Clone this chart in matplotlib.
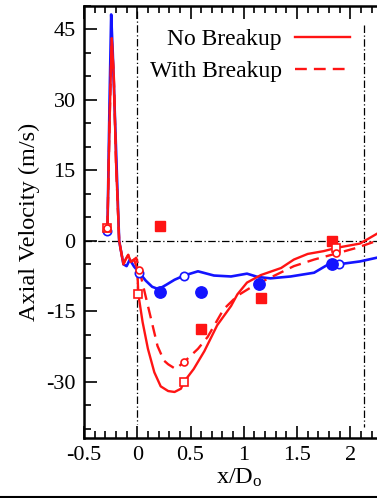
import matplotlib
matplotlib.use("Agg")
import matplotlib.pyplot as plt
from matplotlib.ticker import MultipleLocator
from matplotlib.lines import Line2D

# Continuous-phase axial velocity along the centreline
x_gas = [-0.28, -0.26, -0.245, -0.23, -0.20, -0.17, -0.13, -0.10, -0.07, -0.03, 0.02,
         0.08, 0.14, 0.20, 0.27, 0.35, 0.44, 0.57, 0.72, 0.88, 1.03, 1.13, 1.25,
         1.44, 1.66, 1.78, 1.89, 2.09, 2.25, 2.40]
v_gas = [2.0, 30.0, 48.2, 40.0, 20.0, 0.0, -5.0, -5.4, -4.0, -5.5, -6.8,
         -8.5, -9.8, -10.3, -9.4, -8.3, -7.4, -6.5, -7.4, -7.6, -7.0, -7.7, -8.0,
         -7.6, -6.8, -5.2, -5.0, -4.4, -3.6, -3.0]

# Droplet axial velocity, no breakup model
x_nb = [-0.28, -0.26, -0.24, -0.22, -0.20, -0.17, -0.13, -0.11, -0.085, -0.06, -0.03, 0.0,
        0.01, 0.05, 0.10, 0.16, 0.22, 0.29, 0.35, 0.41, 0.44, 0.53, 0.63, 0.75,
        0.88, 0.94, 1.03, 1.16, 1.35, 1.47, 1.60, 1.75, 1.87, 2.09, 2.25, 2.40]
v_nb = [2.8, 25.0, 43.1, 35.0, 17.0, 0.0, -5.0, -4.0, -3.0, -4.5, -4.0, -6.0,
        -11.4, -17.3, -23.0, -28.0, -31.0, -32.0, -32.2, -31.5, -30.0, -27.3, -23.5, -18.0,
        -13.9, -11.4, -8.9, -7.3, -5.8, -4.0, -2.8, -2.2, -1.5, -0.6, 1.5, 3.5]

# Droplet axial velocity, with breakup model
x_wb = [-0.28, -0.26, -0.24, -0.22, -0.20, -0.17, -0.13, -0.11, -0.085, -0.06, -0.03, -0.01,
        0.02, 0.07, 0.13, 0.19, 0.25, 0.29, 0.36, 0.44, 0.57, 0.66, 0.81,
        0.94, 1.09, 1.28, 1.47, 1.66, 1.87, 2.06, 2.25, 2.40]
v_wb = [2.8, 25.0, 43.1, 35.0, 17.0, 0.0, -5.0, -4.0, -3.0, -4.5, -4.0, -3.6,
        -6.2, -11.0, -16.7, -22.4, -25.5, -26.3, -27.3, -25.8, -23.0, -20.5, -14.6,
        -11.7, -9.6, -7.5, -5.4, -4.0, -2.7, -1.5, 0.0, 1.5]

# Simulation sampling stations
x_gas_mk = [-0.28, 0.02, 0.44, 1.89]
v_gas_mk = [2.0, -6.8, -7.4, -5.0]
x_nb_mk = [-0.28, 0.01, 0.44, 1.87]
v_nb_mk = [2.8, -11.4, -30.0, -1.5]
x_wb_mk = [-0.28, 0.02, 0.44, 1.87]
v_wb_mk = [2.8, -6.2, -25.8, -2.7]

# Measurements
x_exp_gas = [0.21, 0.60, 1.14, 1.83]
v_exp_gas = [-11.0, -11.0, -9.1, -5.0]
x_exp_drop = [0.21, 0.60, 1.16, 1.83]
v_exp_drop = [3.2, -18.8, -12.1, 0.0]

labels = ["No Breakup", "With Breakup"]

serif = ["Liberation Serif", "DejaVu Serif"]
plt.rcParams["font.family"] = serif
plt.rcParams["mathtext.fontset"] = "stix"

W, H = 377, 498
fig = plt.figure(figsize=(W / 100, H / 100), dpi=100)
left, right, top, bottom = 84, 394, 6, 438
ax = fig.add_axes([left / W, 1 - bottom / H, (right - left) / W, (bottom - top) / H])

ax.set_xlim(-0.5, 2.41)
ax.set_ylim(-42, 50)

# reference lines
dashdot = (0, (6, 2, 1, 2))
ax.plot([-0.5, 2.41], [0, 0], color="black", lw=0.9, ls=dashdot, zorder=1)
ax.plot([0, 0], [49, -39], color="black", lw=0.9, ls=dashdot, zorder=1)
ax.plot([2.13, 2.13], [46, -39.6], color="black", lw=0.9, ls=dashdot, zorder=1)

blue = "#1414ff"
red = "#ff1414"
dashed = (0, (5, 3))
ax.plot(x_gas, v_gas, color=blue, lw=1.9, zorder=3)
ax.plot(x_nb, v_nb, color=red, lw=1.7, zorder=4)
ax.plot(x_wb, v_wb, color=red, lw=1.7, ls=dashed, zorder=4)

ax.plot(x_gas_mk, v_gas_mk, ls="none", marker="o", ms=6, mfc="white", mec=blue, mew=1.2, zorder=5)
ax.plot(x_nb_mk, v_nb_mk, ls="none", marker="s", ms=6, mfc="white", mec=red, mew=1.2, zorder=6)
ax.plot(x_wb_mk, v_wb_mk, ls="none", marker="o", ms=5, mfc="white", mec=red, mew=1.2, zorder=6)

ax.plot(x_exp_gas, v_exp_gas, ls="none", marker="o", ms=8.2, color=blue, zorder=5)
ax.plot(x_exp_drop, v_exp_drop, ls="none", marker="s", ms=7.5, color=red, zorder=5)

handles = [Line2D([], [], color=red, lw=1.7),
           Line2D([], [], color=red, lw=1.7, ls=dashed)]
ax.legend(handles, labels, loc="upper right", bbox_to_anchor=((350 - left) / (right - left), 0.947),
          frameon=False, markerfirst=False, fontsize=17, handlelength=2.35,
          handletextpad=0.55, labelspacing=0.42, borderaxespad=0, borderpad=0)

ax.xaxis.set_major_locator(MultipleLocator(0.5))
ax.xaxis.set_minor_locator(MultipleLocator(0.1))
ax.yaxis.set_major_locator(MultipleLocator(15))
ax.yaxis.set_minor_locator(MultipleLocator(5))
ax.tick_params(which="both", direction="in", top=True, right=False, width=1.2, labelsize=16)
ax.tick_params(which="major", length=9, pad=6)
ax.tick_params(which="minor", length=5)
ax.set_xticks([-0.5, 0, 0.5, 1, 1.5, 2])
ax.set_xticklabels(["-0.5", "0", "0.5", "1", "1.5", "2"])
ax.set_yticks([-30, -15, 0, 15, 30, 45])
ax.set_yticklabels(["-30", "-15", "0", "15", "30", "45"])

for s in ("left", "top", "bottom"):
    ax.spines[s].set_linewidth(1.8)
ax.spines["right"].set_visible(False)

ax.set_xlabel(r"x/D$_\mathregular{o}$", fontsize=17.5, labelpad=1)
ax.set_ylabel("Axial Velocity (m/s)", fontsize=17.5, labelpad=4)

# frame line along the bottom edge of the figure
fig.add_artist(Line2D([0, 1], [0.002, 0.002], transform=fig.transFigure, color="black", lw=1.5))

fig.savefig("out.png", dpi=100)
